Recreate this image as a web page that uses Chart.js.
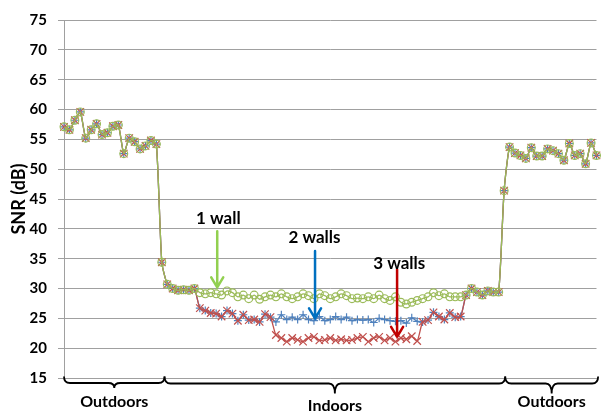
<!DOCTYPE html>
<html>
<head>
<meta charset="utf-8">
<title>SNR indoors vs outdoors</title>
<script src="https://cdn.jsdelivr.net/npm/chart.js@4.4.1/dist/chart.umd.min.js"></script>
<style>
    html, body { margin: 0; padding: 0; background: #fff; }
    #wrap { width: 603px; height: 416px; }
</style>
</head>
<body>
<div id="wrap"><canvas id="snrChart" width="603" height="416"></canvas></div>
<script>
// sample number along the walk (x axis has no tick labels)
const samples = [
    1, 2, 3, 4, 5, 6, 7, 8, 9, 10, 11, 12, 13, 14, 15, 16, 17, 18, 19, 20,
    21, 22, 23, 24, 25, 26, 27, 28, 29, 30, 31, 32, 33, 34, 35, 36, 37, 38, 39, 40,
    41, 42, 43, 44, 45, 46, 47, 48, 49, 50, 51, 52, 53, 54, 55, 56, 57, 58, 59, 60,
    61, 62, 63, 64, 65, 66, 67, 68, 69, 70, 71, 72, 73, 74, 75, 76, 77, 78, 79, 80,
    81, 82, 83, 84, 85, 86, 87, 88, 89, 90, 91, 92, 93, 94, 95, 96, 97, 98, 99
];

// all three runs share the same readings outside and at the doorways
const outdoorStart = [
    57.1, 56.6, 58.2, 59.6, 55.2, 56.6, 57.6, 55.8, 56.1, 57.2,
    57.4, 52.6, 55.2, 54.6, 53.4, 53.9, 54.8, 54.2, 34.4, 30.7,
    30.0, 29.7, 29.8, 29.7, 30.0
];
const outdoorEnd = [
    28.9, 30.0, 29.4, 28.9, 29.6, 29.4, 29.4, 46.4, 53.7, 52.7,
    52.3, 51.8, 53.6, 52.2, 52.2, 53.4, 53.1, 52.6, 51.5, 54.3,
    52.3, 52.6, 50.9, 54.4, 52.3
];

// indoor readings, samples 26..74
const indoor1Wall = [
    29.3, 29.1, 29.3, 29.1, 28.9, 29.6, 29.3, 28.6, 28.9, 28.3,
    28.9, 28.2, 28.6, 28.9, 28.6, 29.1, 28.6, 28.3, 28.6, 29.1,
    28.8, 28.3, 29.1, 28.8, 28.3, 28.6, 29.1, 28.8, 28.3, 28.4,
    28.3, 28.6, 28.3, 28.9, 28.3, 28.0, 28.6, 27.7, 27.4, 27.7,
    28.0, 28.3, 28.6, 29.3, 28.8, 29.1, 28.6, 28.6, 28.6
];
const indoor2Walls = [
    26.7, 26.3, 25.9, 25.8, 25.3, 26.3, 25.8, 24.6, 25.6, 24.7,
    24.8, 24.4, 25.7, 25.2, 24.4, 25.6, 24.8, 25.2, 24.8, 25.6,
    24.8, 24.6, 25.3, 24.6, 24.8, 25.3, 24.8, 25.2, 24.6, 24.8,
    24.7, 24.8, 24.3, 25.0, 24.8, 24.6, 24.5, 24.6, 24.2, 25.1,
    24.5, 24.4, 24.7, 26.0, 25.3, 24.8, 25.9, 25.2, 25.3
];
const indoor3Walls = [
    26.7, 26.3, 25.9, 25.8, 25.3, 26.3, 25.8, 24.6, 25.6, 24.7,
    24.8, 24.4, 25.7, 25.2, 22.2, 21.7, 21.1, 21.7, 21.4, 21.1,
    21.7, 21.9, 21.3, 21.4, 21.7, 21.3, 21.5, 21.3, 21.4, 21.7,
    21.9, 21.1, 21.7, 21.9, 21.3, 21.7, 21.1, 21.7, 21.5, 22.0,
    21.2, 24.4, 24.7, 26.0, 25.3, 24.8, 25.9, 25.2, 25.3
];

const snr1Wall = outdoorStart.concat(indoor1Wall, outdoorEnd);
const snr2Walls = outdoorStart.concat(indoor2Walls, outdoorEnd);
const snr3Walls = outdoorStart.concat(indoor3Walls, outdoorEnd);

const yTicks = [15, 20, 25, 30, 35, 40, 45, 50, 55, 60, 65, 70, 75];

const GREEN = '#9BBB59';
const RED = '#C0504D';
const BLUE = '#4F81BD';
const FONT = 'Lato, "Open Sans", sans-serif';

// call-outs: at = sample index, values in dB
const callouts = [
    { text: '1 wall', color: '#92D050', textAt: 28.4, textY: 41.8, at: 28.2, from: 39.6, to: 30.2 },
    { text: '2 walls', color: '#0070C0', textAt: 46.1, textY: 38.5, at: 46.2, from: 36.3, to: 25.0 },
    { text: '3 walls', color: '#C00000', textAt: 61.7, textY: 34.2, at: 61.3, from: 33.2, to: 21.9 }
];

// braces under the axis: start/end sample index
const regions = [
    { text: 'Outdoors', start: 0, end: 18.5, h: 6.5, cusp: 11.5, textY: 402 },
    { text: 'Indoors', start: 18.5, end: 81.2, h: 7, cusp: 17, textY: 406 },
    { text: 'Outdoors', start: 81.2, end: 98.3, h: 7, cusp: 17, textY: 402 }
];

const notesPlugin = {
    id: 'notes',
    afterDraw(chart) {
        const { ctx, scales: { x, y }, chartArea } = chart;
        ctx.save();

        // arrows and labels
        callouts.forEach(c => {
            const ax = x.getPixelForValue(c.at);
            const y1 = y.getPixelForValue(c.from);
            const y2 = y.getPixelForValue(c.to);
            ctx.strokeStyle = c.color;
            ctx.lineWidth = 2.5;
            ctx.lineCap = 'round';
            ctx.beginPath();
            ctx.moveTo(ax, y1);
            ctx.lineTo(ax, y2);
            ctx.moveTo(ax - 6, y2 - 10);
            ctx.lineTo(ax, y2);
            ctx.lineTo(ax + 6, y2 - 10);
            ctx.stroke();

            ctx.fillStyle = '#000';
            ctx.font = 'bold 17px ' + FONT;
            ctx.textAlign = 'center';
            ctx.textBaseline = 'middle';
            ctx.fillText(c.text, x.getPixelForValue(c.textAt), y.getPixelForValue(c.textY));
        });

        // curly braces
        const top = chartArea.bottom - 1.5;
        ctx.strokeStyle = '#000';
        ctx.lineWidth = 1.8;
        ctx.lineCap = 'butt';
        regions.forEach(r => {
            const x1 = x.getPixelForValue(r.start);
            const x2 = Math.min(x.getPixelForValue(r.end), chart.width - 1);
            const xm = (x1 + x2) / 2;
            const hy = top + r.h;
            const cy = top + r.cusp;
            const rad = 6;
            ctx.beginPath();
            ctx.moveTo(x1, top);
            ctx.quadraticCurveTo(x1, hy, x1 + rad, hy);
            ctx.lineTo(xm - rad, hy);
            ctx.quadraticCurveTo(xm, hy, xm, cy);
            ctx.quadraticCurveTo(xm, hy, xm + rad, hy);
            ctx.lineTo(x2 - rad, hy);
            ctx.quadraticCurveTo(x2, hy, x2, top);
            ctx.stroke();

            ctx.fillStyle = '#000';
            ctx.font = 'bold 16px ' + FONT;
            ctx.textAlign = 'center';
            ctx.textBaseline = 'middle';
            ctx.fillText(r.text, xm, r.textY);
        });

        ctx.restore();
    }
};

const canvas = document.getElementById('snrChart');

new Chart(canvas.getContext('2d'), {
    type: 'line',
    data: {
        labels: samples,
        datasets: [
            {
                label: '1 wall',
                data: snr1Wall,
                borderColor: GREEN,
                borderWidth: 1.3,
                pointStyle: 'circle',
                pointRadius: 3.9,
                pointBorderWidth: 1.2,
                pointBorderColor: GREEN,
                pointBackgroundColor: 'rgba(0,0,0,0)',
                tension: 0.2
            },
            {
                label: '3 walls',
                data: snr3Walls,
                borderColor: RED,
                borderWidth: 1.3,
                pointStyle: 'crossRot',
                pointRadius: 5.3,
                pointBorderWidth: 1.2,
                pointBorderColor: RED,
                tension: 0.2
            },
            {
                label: '2 walls',
                data: snr2Walls,
                borderColor: BLUE,
                borderWidth: 1.3,
                pointStyle: 'cross',
                pointRadius: 4,
                pointBorderWidth: 1.2,
                pointBorderColor: BLUE,
                tension: 0.2
            }
        ]
    },
    options: {
        responsive: false,
        animation: false,
        layout: {
            padding: { top: 17, right: 3, left: 0, bottom: 0 }
        },
        plugins: {
            legend: { display: false },
            tooltip: { enabled: false }
        },
        scales: {
            x: {
                offset: false,
                grid: { display: false },
                ticks: { display: false },
                border: { display: true, color: '#a0a0a0', width: 1 },
                afterFit: scale => { scale.height = 38; }
            },
            y: {
                min: 15,
                max: 75,
                afterBuildTicks: scale => {
                    scale.ticks = yTicks.map(v => ({ value: v }));
                },
                ticks: {
                    color: '#000',
                    padding: 11,
                    font: { family: FONT, size: 15, weight: 'bold' }
                },
                grid: {
                    color: '#a0a0a0',
                    lineWidth: 1,
                    tickLength: 6
                },
                border: { color: '#a0a0a0' },
                title: {
                    display: true,
                    text: 'SNR (dB)',
                    color: '#000',
                    padding: { top: 8, bottom: 0 },
                    font: { family: FONT, size: 18, weight: 'bold' }
                },
                afterFit: scale => { scale.width = 64; }
            }
        }
    },
    plugins: [notesPlugin]
});
</script>
</body>
</html>
